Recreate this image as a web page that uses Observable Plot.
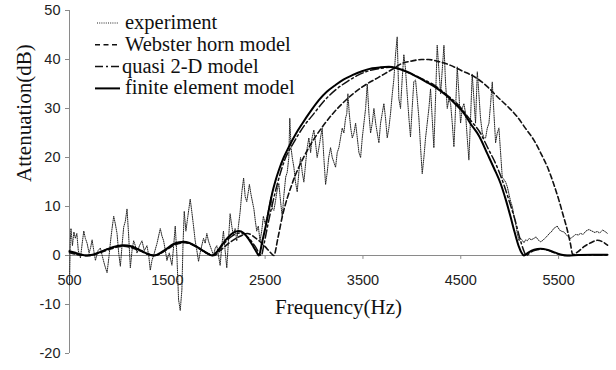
<!DOCTYPE html>
<html><head><meta charset="utf-8">
<script src="https://cdn.jsdelivr.net/npm/d3@7"></script>
<script src="https://cdn.jsdelivr.net/npm/@observablehq/plot@0.6"></script>
<style>
body{margin:0;background:#fff}
#wrap{position:relative;width:616px;height:370px}
#legend{position:absolute;left:0;top:0;pointer-events:none}
</style>
</head><body><div id="wrap"></div>
<script>
// Frequency (Hz), attenuation (dB) pairs
const experiment = [
[500,-6],[508,3],[515,5.5],[530,2],[545,4.8],[560,3.5],[575,4.5],[590,1],[612,-0.5],[630,2.5],[646,5],[662,3.5],[680,2.5],[700,0.5],[715,1.5],[731,3.2],[748,1],[765,-1],[790,1],[816,1.5],[840,-0.5],[860,-2],[884,-3.5],[905,0],[920,3],[935,5.5],[952,8],[968,6.5],[986,4.5],[1003,0.5],[1020,-2.2],[1037,2],[1054,5.8],[1071,7],[1088,9.5],[1105,4],[1122,-2.5],[1139,1],[1156,3],[1173,2],[1190,0.5],[1215,2],[1241,3],[1265,1],[1292,2],[1310,0],[1326,-3],[1343,-1],[1360,0],[1395,2.5],[1428,5.5],[1445,4],[1462,3],[1480,1],[1496,-1],[1520,0.5],[1547,-2],[1565,2],[1581,6],[1598,0],[1615,-9],[1632,-11.2],[1649,-7],[1660,2],[1673,9],[1690,5],[1710,8],[1734,11.5],[1750,9],[1768,6],[1785,3],[1802,1],[1819,-1.2],[1835,0.5],[1852,2],[1870,3.5],[1887,2.5],[1904,4.5],[1920,3],[1937,2],[1955,1],[1972,0],[1990,1.5],[2006,2],[2023,0],[2040,-2],[2057,2],[2074,5],[2091,1],[2108,-2.5],[2125,3],[2142,8.5],[2159,6],[2176,4],[2193,5.5],[2210,3],[2227,6],[2245,9],[2262,13],[2280,15.8],[2296,12],[2312,11],[2328,13],[2339,14.5],[2355,12.5],[2370,11],[2385,9.5],[2400,7],[2414,5],[2430,6],[2448,3],[2465,5],[2482,8],[2500,6.5],[2521,8],[2540,10],[2560,12],[2575,9.5],[2589,9.2],[2605,11],[2620,13],[2640,14.7],[2658,11],[2675,7.9],[2690,12],[2710,16],[2726,17],[2742,20],[2752,28],[2765,22],[2777,20],[2794,18],[2810,15],[2828,13],[2845,17],[2862,20],[2879,17],[2896,15],[2915,19],[2930,22],[2947,24],[2965,21],[2980,24],[2998,25.6],[3015,23],[3032,20],[3050,22],[3066,24],[3083,26],[3100,20],[3118,14.5],[3135,17],[3150,20],[3169,22],[3186,20],[3203,19],[3220,18],[3237,21],[3254,22],[3271,24],[3288,26],[3305,25],[3322,28],[3335,29],[3346,33],[3360,29],[3375,26],[3391,24],[3408,25],[3425,27],[3442,24],[3459,21],[3476,20],[3493,24],[3510,27],[3527,30],[3544,35],[3561,29],[3578,25],[3595,27],[3612,30],[3630,27],[3646,25],[3663,23],[3680,27],[3697,29],[3714,31],[3731,28],[3748,24],[3765,26],[3782,29],[3800,33],[3816,36],[3833,41],[3850,44.6],[3867,32],[3884,30],[3901,36],[3918,41],[3935,38],[3952,33],[3970,28],[3986,24.2],[4003,30],[4020,35.5],[4038,35.8],[4055,32],[4072,28],[4089,22],[4106,16.7],[4123,20],[4140,24],[4157,27],[4174,30],[4191,34],[4208,28],[4225,22],[4242,32],[4259,42.9],[4276,38],[4294,33],[4311,38],[4328,42.9],[4345,35],[4362,30],[4379,32],[4396,31],[4413,27],[4430,22.2],[4447,30],[4464,38.5],[4481,33],[4498,27],[4515,30],[4532,31],[4549,29],[4566,24],[4583,19.5],[4600,28],[4617,37],[4634,32],[4651,27],[4669,37.5],[4685,33],[4702,28],[4720,25],[4737,24],[4754,24],[4771,26],[4788,27],[4805,31],[4822,35.4],[4839,29],[4856,23],[4873,25],[4890,26],[4907,21],[4924,16],[4941,15.5],[4958,15],[4976,14],[4993,12.5],[5010,11],[5027,10],[5044,8],[5061,6.5],[5078,4.5],[5095,3],[5112,3.5],[5129,3.1],[5146,2.6],[5163,3.2],[5180,3],[5200,3.5],[5220,3.2],[5249,3.5],[5270,3.8],[5290,3.2],[5317,2.8],[5340,3.1],[5360,3.5],[5385,4],[5405,4.5],[5425,4.8],[5450,5.5],[5486,6],[5510,5.2],[5535,4.9],[5556,4.8],[5580,4.2],[5600,3.8],[5624,3.5],[5650,3.9],[5675,4.3],[5700,4.2],[5725,4.5],[5750,4.3],[5780,5],[5810,5.3],[5840,5],[5870,4.7],[5896,4.9],[5920,4.6],[5950,5.2],[5981,4.8],[6000,4.5]
];
const webster = [
[500,0.6],[600,0.1],[690,0],[800,0.5],[900,1.2],[1050,1.9],[1200,1.1],[1300,0.3],[1370,0],[1480,1],[1560,2],[1680,2.6],[1800,1.7],[1900,0.5],[1975,0],[2050,1.2],[2150,2.8],[2250,4],[2320,4.5],[2400,3.6],[2500,1.8],[2550,0.7],[2589,0],[2630,3.5],[2675,7.9],[2777,14.7],[2913,20.8],[3083,26.2],[3288,31],[3493,34.4],[3663,36.4],[3800,38],[3900,39.2],[4000,39.7],[4100,40],[4170,40],[4250,39.7],[4396,38.8],[4500,37.8],[4669,36.1],[4780,34.3],[4874,32.4],[4980,30.4],[5078,28.3],[5160,26],[5249,23.5],[5320,20.8],[5385,18.1],[5450,14.6],[5503,11.3],[5550,8],[5589,5.2],[5620,2.5],[5645,0.2],[5700,0.8],[5759,1.8],[5830,2.6],[5896,3.1],[5950,2.8],[6000,2.1]
];
const quasi2D = [
[500,0.8],[560,0.4],[620,0.1],[690,0],[800,0.6],[900,1.4],[1060,2.0],[1200,1.3],[1300,0.3],[1370,0],[1480,1.1],[1560,2.2],[1680,2.7],[1800,1.8],[1900,0.6],[1965,0],[2060,2.0],[2150,3.8],[2250,4.6],[2330,3.6],[2400,1.8],[2460,0],[2490,2.5],[2530,6.5],[2580,11],[2630,15],[2700,19.5],[2790,23],[2900,26.5],[3000,29],[3100,31.5],[3220,33.8],[3339,35.5],[3450,36.8],[3560,37.7],[3680,38.2],[3780,38.4],[3880,38.0],[3980,37.2],[4100,36.1],[4225,34.8],[4350,32.9],[4480,30.6],[4600,27.6],[4700,25],[4780,21.8],[4860,18.6],[4940,14.5],[5000,10.8],[5050,7.6],[5100,3.8],[5140,1.2],[5170,0],[5210,0.6],[5270,1.1],[5330,1.3],[5400,1.0],[5480,0.4],[5580,0],[5700,0.1],[6000,0.1]
];
const finiteElement = [
[500,0.9],[550,0.6],[600,0.25],[650,0.05],[681,0],[720,0.1],[800,0.6],[900,1.4],[980,1.9],[1055,2.1],[1130,1.9],[1200,1.3],[1280,0.5],[1330,0.1],[1362,0],[1400,0.2],[1480,1.2],[1560,2.3],[1620,2.7],[1669,2.8],[1720,2.6],[1800,1.8],[1880,0.8],[1930,0.2],[1958,0],[2000,0.6],[2060,2.2],[2120,3.7],[2180,4.7],[2231,5.0],[2280,4.6],[2330,3.4],[2380,1.8],[2415,0.6],[2436,0],[2470,2.8],[2504,5.8],[2540,9.5],[2572,12.7],[2605,15.2],[2640,17.4],[2690,20],[2743,22.2],[2810,24.7],[2879,26.9],[2960,29.3],[3049,31.7],[3130,33.4],[3220,34.8],[3300,35.9],[3391,36.8],[3490,37.6],[3595,38.2],[3680,38.4],[3765,38.5],[3850,38.2],[3950,37.5],[4050,36.5],[4150,35.4],[4250,34.2],[4350,32.7],[4450,30.8],[4530,29.1],[4600,26.9],[4690,24.3],[4771,20.8],[4840,17.8],[4907,14.7],[4960,11.4],[5009,7.9],[5050,4.8],[5094,1.8],[5120,0.6],[5146,0],[5190,0.6],[5250,1.2],[5316,1.4],[5380,1.2],[5450,0.7],[5520,0.2],[5589,0],[5700,0.1],[5850,0.15],[6000,0.15]
];
const xTicks = [500,1500,2500,3500,4500,5500];
const yTicks = [-20,-10,0,10,20,30,40,50];
const seriesNames = ["experiment","Webster horn model","quasi 2-D model","finite element model"];
const xLabel = "Frequency(Hz)";
const yLabel = "Attenuation(dB)";

const rows = a => a.map(([f, v]) => ({f, v}));
const axisGray = "#8a8a8a";
const serif = "Liberation Serif, Times New Roman, serif";

const chart = Plot.plot({
  width: 616, height: 370,
  marginLeft: 69, marginRight: 9, marginTop: 10, marginBottom: 17,
  x: {domain: [500, 6000], axis: null},
  y: {domain: [-20, 50], axis: null},
  style: {fontFamily: "Liberation Sans, Arial, sans-serif", fontSize: "14.5px", color: "#222", background: "#fff"},
  marks: [
    Plot.ruleX([500], {y1: -20, y2: 50, stroke: axisGray}),
    Plot.axisY(yTicks, {tickSize: 4, tickPadding: 5, stroke: axisGray, label: null, fontSize: 14.5, tickFormat: d => String(d)}),
    Plot.ruleY([0], {stroke: axisGray}),
    Plot.ruleX(xTicks, {x: d => d, y1: 0, y2: -0.8, stroke: axisGray}),
    Plot.text(xTicks, {x: d => d, y: 0, dy: 25, text: d => String(d), fontSize: 14.5, fill: "#222"}),
    Plot.line(rows(experiment), {x: "f", y: "v", stroke: "#222", strokeWidth: 1, strokeDasharray: "1,1.2"}),
    Plot.line(rows(webster), {x: "f", y: "v", curve: "monotone-x", stroke: "#111", strokeWidth: 1.6, strokeDasharray: "5,3"}),
    Plot.line(rows(quasi2D), {x: "f", y: "v", curve: "monotone-x", stroke: "#111", strokeWidth: 1.5, strokeDasharray: "8,3,2,3"}),
    Plot.line(rows(finiteElement), {x: "f", y: "v", curve: "monotone-x", stroke: "#000", strokeWidth: 2}),
    Plot.text([xLabel], {frameAnchor: "bottom", dy: -40, fontFamily: serif, fontSize: 21, fill: "#111"}),
    Plot.text([yLabel], {frameAnchor: "left", dx: -45, rotate: -90, fontFamily: serif, fontSize: 21, fill: "#111"})
  ]
});
const wrap = document.getElementById("wrap");
wrap.appendChild(chart);

// Legend (top-left, inside the plot)
const legendStyles = [
  {dash: "1,1.2", w: 1, color: "#222", x1: 97, x2: 118},
  {dash: "5,3.5", w: 1.6, color: "#111", x1: 95, x2: 120},
  {dash: "8,3,2,3", w: 1.5, color: "#111", x1: 95, x2: 120},
  {dash: null, w: 2, color: "#000", x1: 95, x2: 120}
];
const lg = d3.select(wrap).append("svg").attr("id", "legend").attr("width", 616).attr("height", 370);
seriesNames.forEach((name, i) => {
  const yc = 23 + i * 21.8;
  const s = legendStyles[i];
  const ln = lg.append("line").attr("x1", s.x1).attr("x2", s.x2).attr("y1", yc).attr("y2", yc)
    .attr("stroke", s.color).attr("stroke-width", s.w);
  if (s.dash) ln.attr("stroke-dasharray", s.dash);
  lg.append("text").attr("x", i === 2 ? 122 : 125).attr("y", yc + 6)
    .attr("font-family", serif).attr("font-size", 20.5).attr("fill", "#111").text(name);
});
</script>
</body></html>
